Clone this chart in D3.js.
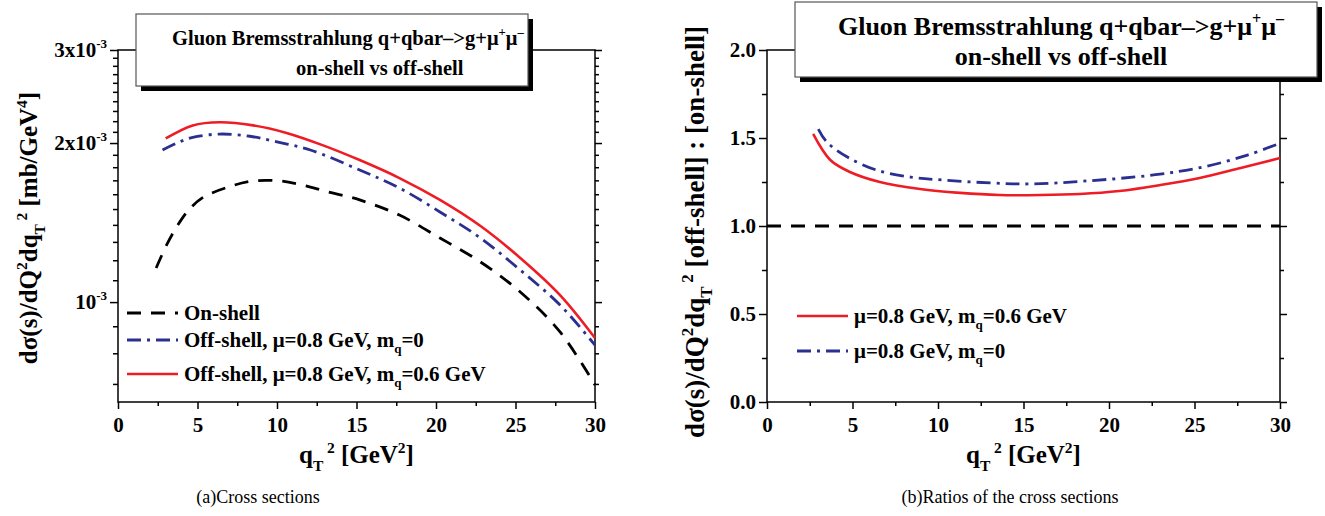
<!DOCTYPE html>
<html>
<head>
<meta charset="utf-8">
<script src="https://cdn.jsdelivr.net/npm/d3@7"></script>
<style>
  body { margin: 0; background: #fff; }
  svg text { font-family: "Liberation Serif", "Times New Roman", serif; }
</style>
</head>
<body>
<svg id="chart" width="1325" height="516"></svg>
<script>
// ---- data ----
// (a) cross sections, mb/GeV^4
const onShellX   = [2.4, 3.1, 3.9, 4.5, 5.3, 6.9, 8.5, 10.2, 11.6, 13.1, 15.2, 17.7, 20.25, 22.8, 25.3, 27.8, 30];
const onShellY   = [1.16e-3, 1.29e-3, 1.42e-3, 1.50e-3, 1.575e-3, 1.65e-3, 1.695e-3, 1.695e-3, 1.665e-3, 1.62e-3, 1.561e-3, 1.461e-3, 1.322e-3, 1.191e-3, 1.045e-3, 0.878e-3, 0.697e-3];
const offMq0X    = [2.8, 3.7, 4.7, 6.4, 8.3, 10.0, 12.1, 15.2, 17.7, 20.25, 22.8, 25.3, 27.8, 30];
const offMq0Y    = [1.94e-3, 2.0e-3, 2.05e-3, 2.08e-3, 2.06e-3, 2.01e-3, 1.94e-3, 1.778e-3, 1.644e-3, 1.481e-3, 1.322e-3, 1.150e-3, 0.9875e-3, 0.829e-3];
const offMq06X   = [3.0, 4.7, 6.4, 8.5, 10.6, 12.9, 15.2, 17.7, 20.25, 22.8, 25.3, 27.8, 30];
const offMq06Y   = [2.04e-3, 2.16e-3, 2.19e-3, 2.16e-3, 2.09e-3, 1.98e-3, 1.857e-3, 1.717e-3, 1.561e-3, 1.393e-3, 1.212e-3, 1.031e-3, 0.855e-3];

// (b) ratios off-shell / on-shell
const ratioMq06X = [2.7, 3.7, 4.85, 6.6, 8.95, 11.3, 13.6, 16.0, 18.3, 20.6, 23.0, 25.3, 27.7, 30];
const ratioMq06Y = [1.523, 1.375, 1.307, 1.25, 1.21, 1.188, 1.176, 1.176, 1.182, 1.199, 1.233, 1.273, 1.33, 1.386];
const ratioMq0X  = [3.0, 3.5, 4.7, 6.4, 8.4, 10.3, 13.2, 15.4, 18.7, 22.6, 25.5, 28.1, 30];
const ratioMq0Y  = [1.551, 1.477, 1.392, 1.318, 1.278, 1.261, 1.244, 1.239, 1.256, 1.29, 1.335, 1.403, 1.47];
const ratioRefX  = [0, 30];
const ratioRefY  = [1.0, 1.0];

// ticks
const xMajor = [0, 5, 10, 15, 20, 25, 30];
const xMinor = [2.5, 7.5, 12.5, 17.5, 22.5, 27.5];
const yLMajor = [1e-3, 2e-3, 3e-3];
const yLLabels = [["", "10", "-3"], ["2x", "10", "-3"], ["3x", "10", "-3"]];
const yRMajor = [0, 0.5, 1.0, 1.5, 2.0];
const yRMinor = [0.25, 0.75, 1.25, 1.75];

const titleLine1 = "Gluon Bremsstrahlung q+qbar\u2013>g+\u03bc";
const titleLine2 = "on-shell vs off-shell";

const svg = d3.select("#chart");
const black = "#000", blue = "#2b2f8f", red = "#ee1c24";
const serif = "Liberation Serif";

const zip = (xs, ys) => xs.map((x, i) => ({x, y: ys[i]}));

// rich text: parts = [[text, mode]] mode: "", "sup", "sub"
function rich(sel, parts, size) {
  let shift = 0;
  parts.forEach(([t, m]) => {
    const target = m === "sup" ? -0.42 * size : m === "sub" ? 0.3 * size : 0;
    sel.append("tspan")
      .attr("dy", target - shift)
      .attr("font-size", m ? size * 0.62 : size)
      .text(t);
    shift = target;
  });
}

function panel(cfg) {
  const g = svg.append("g");
  const x = d3.scaleLinear().domain([0, 30]).range([cfg.x0, cfg.x1]);
  const y = cfg.y;

  // frame
  g.append("rect").attr("x", cfg.x0).attr("y", cfg.y1)
    .attr("width", cfg.x1 - cfg.x0).attr("height", cfg.y0 - cfg.y1)
    .attr("fill", "none").attr("stroke", black).attr("stroke-width", 1.5);

  // x axis
  const xa = g.append("g").attr("transform", `translate(0,${cfg.y0})`);
  xa.call(d3.axisBottom(x).tickValues(xMajor).tickSize(7).tickFormat(d3.format("d")));
  xa.append("g").call(d3.axisBottom(x).tickValues(xMinor).tickSize(4).tickFormat(""));
  xa.selectAll(".domain").remove();
  xa.selectAll("line").attr("stroke", black).attr("stroke-width", 1.5);
  xa.attr("font-family", serif);
  xa.selectAll("text").attr("font-size", 21).attr("font-weight", "bold")
    .attr("fill", black).attr("dy", "0.95em");

  // y axis
  const ya = g.append("g").attr("transform", `translate(${cfg.x0},0)`);
  ya.call(d3.axisLeft(y).tickValues(cfg.yMajor).tickSize(8).tickFormat(""));
  ya.append("g").call(d3.axisLeft(y).tickValues(cfg.yMinor).tickSize(5).tickFormat(""));
  ya.selectAll(".domain").remove();
  ya.selectAll("line").attr("stroke", black).attr("stroke-width", 1.5);
  // right-side mirror ticks
  const yr = g.append("g").attr("transform", `translate(${cfg.x1},0)`);
  yr.call(d3.axisLeft(y).tickValues(cfg.yMajor).tickSize(7).tickFormat(""));
  yr.append("g").call(d3.axisLeft(y).tickValues(cfg.yMinor).tickSize(4).tickFormat(""));
  yr.selectAll(".domain").remove();
  yr.selectAll("line").attr("stroke", black).attr("stroke-width", 1.5).attr("transform", "scale(-1,1)");

  cfg.yMajor.forEach((v, i) => {
    const t = g.append("text").attr("x", cfg.x0 - 11).attr("y", y(v) + 7)
      .attr("text-anchor", "end").attr("font-weight", "bold").attr("font-size", 21);
    cfg.yLabel(t, v, i);
  });

  // curves
  const line = d3.line().x(d => x(d.x)).y(d => y(d.y)).curve(d3.curveCatmullRom.alpha(0.5));
  cfg.series.forEach(s => {
    g.append("path").datum(zip(s.x, s.y))
      .attr("fill", "none").attr("stroke", s.color).attr("stroke-width", s.w)
      .attr("stroke-dasharray", s.dash).attr("d", line);
  });

  // axis titles
  const xt = g.append("text").attr("x", (cfg.x0 + cfg.x1) / 2).attr("y", 463)
    .attr("text-anchor", "middle").attr("font-weight", "bold");
  rich(xt, [["q", ""], ["T", "sub"], [" 2", "sup"], [" [GeV", ""], ["2", "sup"], ["]", ""]], 25);

  const yt = g.append("text")
    .attr("transform", `translate(${cfg.yTitleX},${cfg.yTitleY}) rotate(-90)`)
    .attr("text-anchor", "middle").attr("font-weight", "bold");
  rich(yt, cfg.yTitle, cfg.yTitleSize);

  // title box
  const b = cfg.box;
  g.append("rect").attr("x", b.x + 5).attr("y", b.y + 5).attr("width", b.w).attr("height", b.h).attr("fill", black);
  g.append("rect").attr("x", b.x).attr("y", b.y).attr("width", b.w).attr("height", b.h)
    .attr("fill", "#fff").attr("stroke", "#555").attr("stroke-width", 1.2);
  const t1 = g.append("text").attr("x", b.x1).attr("y", b.l1).attr("text-anchor", b.anchor)
    .attr("font-weight", "bold");
  rich(t1, [[titleLine1, ""], ["+", "sup"], ["\u03bc", ""], ["\u2013", "sup"]], b.size);
  g.append("text").attr("x", b.x2).attr("y", b.l2).attr("text-anchor", b.anchor)
    .attr("font-weight", "bold").attr("font-size", b.size).text(titleLine2);

  // legend
  cfg.legend.forEach(l => {
    g.append("line").attr("x1", l.x).attr("x2", l.x + 51).attr("y1", l.y).attr("y2", l.y)
      .attr("stroke", l.color).attr("stroke-width", l.w).attr("stroke-dasharray", l.dash);
    const lt = g.append("text").attr("x", l.x + 57).attr("y", l.y + 7).attr("font-weight", "bold");
    rich(lt, l.text, 21);
  });

  // caption
  g.append("text").attr("x", cfg.capX).attr("y", 503).attr("text-anchor", "middle")
    .attr("font-size", 18).text(cfg.caption);
}

const dashOn = "14,10";
const dashDot = "14,6,3,6";

const yLeft = d3.scaleLog().domain([6.47e-4, 3e-3]).range([402, 50]);
const yLeftMinor = d3.range(7, 30).filter(k => k % 10 !== 0).map(k => k * 1e-4);

panel({
  x0: 118, x1: 595, y0: 402, y1: 50,
  y: yLeft, yMajor: yLMajor, yMinor: yLeftMinor,
  yLabel: (t, v, i) => rich(t, [[yLLabels[i][0] + yLLabels[i][1], ""], [yLLabels[i][2], "sup"]], 21),
  series: [
    {x: onShellX, y: onShellY, color: black, w: 2.8, dash: dashOn},
    {x: offMq0X, y: offMq0Y, color: blue, w: 2.8, dash: dashDot},
    {x: offMq06X, y: offMq06Y, color: red, w: 2.6, dash: null}
  ],
  yTitle: [["d\u03c3(s)/dQ", ""], ["2", "sup"], ["dq", ""], ["T", "sub"], [" 2", "sup"], [" [mb/GeV", ""], ["4", "sup"], ["]", ""]],
  yTitleX: 37, yTitleY: 228, yTitleSize: 25,
  box: {x: 136, y: 14, w: 392, h: 72, anchor: "start", x1: 172, x2: 296, l1: 45, l2: 75, size: 20.5},
  legend: [
    {x: 127, y: 313, color: black, w: 2.8, dash: dashOn, text: [["On-shell", ""]]},
    {x: 127, y: 340, color: blue, w: 2.8, dash: dashDot, text: [["Off-shell, \u03bc=0.8 GeV, m", ""], ["q", "sub"], ["=0", ""]]},
    {x: 127, y: 374, color: red, w: 2.6, dash: null, text: [["Off-shell, \u03bc=0.8 GeV, m", ""], ["q", "sub"], ["=0.6 GeV", ""]]}
  ],
  capX: 258, caption: "(a)Cross sections"
});

const yRight = d3.scaleLinear().domain([0, 2]).range([402, 50]);

panel({
  x0: 767, x1: 1280, y0: 402, y1: 50,
  y: yRight, yMajor: yRMajor, yMinor: yRMinor,
  yLabel: (t, v) => t.text(d3.format(".1f")(v)),
  series: [
    {x: ratioRefX, y: ratioRefY, color: black, w: 2.8, dash: dashOn},
    {x: ratioMq0X, y: ratioMq0Y, color: blue, w: 2.8, dash: dashDot},
    {x: ratioMq06X, y: ratioMq06Y, color: red, w: 2.6, dash: null}
  ],
  yTitle: [["d\u03c3(s)/dQ", ""], ["2", "sup"], ["dq", ""], ["T", "sub"], [" 2", "sup"], [" [off-shell] : [on-shell]", ""]],
  yTitleX: 704, yTitleY: 232, yTitleSize: 27,
  box: {x: 795, y: 2, w: 522, h: 75, anchor: "middle", x1: 1061, x2: 1061, l1: 35, l2: 65, size: 26},
  legend: [
    {x: 797, y: 316, color: red, w: 2.6, dash: null, text: [["\u03bc=0.8 GeV, m", ""], ["q", "sub"], ["=0.6 GeV", ""]]},
    {x: 797, y: 351, color: blue, w: 2.8, dash: dashDot, text: [["\u03bc=0.8 GeV, m", ""], ["q", "sub"], ["=0", ""]]}
  ],
  capX: 1010, caption: "(b)Ratios of the cross sections"
});
</script>
</body>
</html>
